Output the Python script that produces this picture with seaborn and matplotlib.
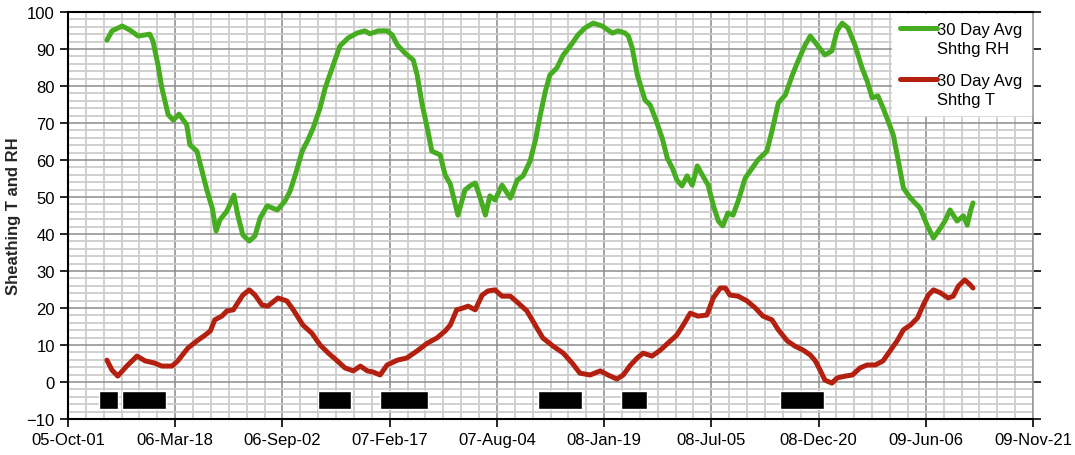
import pandas as pd
import matplotlib
matplotlib.use('Agg')
import matplotlib.pyplot as plt
import matplotlib.dates as mdates
from matplotlib.ticker import MultipleLocator, FixedLocator
from matplotlib.legend_handler import HandlerLine2D
import seaborn as sns

#%% Data (days counted from 2005-10-01)
start = pd.Timestamp('2005-10-01')

rh_days = [61, 69, 85, 97, 110, 128, 133, 141, 147, 157, 165, 174, 186, 191, 202, 210, 218, 226,
           232, 238, 249, 260, 266, 274, 284, 293, 301, 312, 328, 340, 348, 356, 367, 375, 384,
           395, 403, 414, 426, 439, 453, 465, 473, 486, 500, 508, 516, 528, 541, 547, 555, 563,
           570, 583, 591, 599, 611, 622, 630, 638, 646, 654, 661, 669, 680, 693, 704, 713, 724,
           732, 740, 748, 755, 766, 776, 787, 799, 810, 823, 837, 853, 862, 873, 878, 884, 892,
           904, 912, 920, 931, 939, 947, 954, 962, 970, 978, 986, 994, 1003, 1011, 1019, 1026,
           1034, 1042, 1050, 1061, 1072, 1081, 1095, 1103, 1113, 1124, 1135, 1144, 1155, 1163,
           1175, 1186, 1197, 1205, 1213, 1222, 1233, 1244, 1252, 1260, 1269, 1277, 1285, 1293,
           1301, 1309, 1320, 1335, 1346, 1356, 1367, 1374, 1382, 1393, 1403, 1409, 1414, 1418]
rh_vals = [92.4, 94.9, 96.2, 95.1, 93.5, 94.0, 92.2, 85.7, 79.5, 72.2, 70.8, 72.4, 69.5, 64.1,
           62.4, 57.0, 51.6, 47.0, 40.8, 43.8, 46.2, 50.5, 45.1, 39.7, 38.1, 39.5, 44.3, 47.6,
           46.5, 48.9, 51.6, 55.9, 62.4, 65.1, 68.6, 74.1, 79.5, 84.9, 90.8, 93.0, 94.3, 94.9,
           94.1, 94.9, 94.9, 93.8, 91.1, 88.9, 87.0, 83.0, 74.9, 68.6, 62.4, 61.4, 55.9, 53.5,
           45.1, 51.9, 53.0, 53.8, 49.7, 45.1, 50.3, 49.2, 53.2, 49.7, 54.6, 55.7, 59.7, 65.1,
           72.2, 78.6, 83.0, 84.9, 88.4, 90.8, 93.8, 95.7, 97.0, 96.2, 94.3, 94.9, 94.3, 93.5,
           90.3, 83.0, 76.2, 74.9, 71.4, 65.9, 60.5, 57.8, 54.6, 53.0, 55.7, 53.2, 58.4, 55.9,
           53.2, 47.8, 43.5, 42.2, 45.7, 45.1, 48.9, 55.1, 57.8, 60.0, 62.4, 67.8, 75.4, 77.6,
           83.0, 86.8, 91.1, 93.5, 90.8, 88.4, 89.5, 94.9, 97.0, 95.7, 91.1, 84.9, 81.4, 76.8,
           77.3, 74.1, 70.5, 66.8, 59.7, 52.4, 49.7, 47.0, 42.4, 38.9, 41.6, 43.5, 46.5, 43.5,
           44.9, 42.4, 46.2, 48.4]

t_days = [61, 69, 78, 92, 108, 121, 136, 147, 163, 172, 188, 202, 215, 223, 230, 241, 249, 259,
          266, 274, 284, 293, 304, 313, 329, 343, 353, 368, 382, 395, 408, 422, 434, 447, 458,
          469, 478, 489, 500, 516, 531, 547, 563, 578, 591, 599, 609, 619, 627, 638, 649, 658,
          669, 680, 693, 705, 719, 732, 744, 760, 776, 790, 802, 818, 834, 846, 860, 870, 881,
          892, 901, 915, 928, 940, 954, 964, 975, 987, 1001, 1011, 1022, 1030, 1037, 1050, 1064,
          1077, 1089, 1103, 1113, 1127, 1139, 1152, 1163, 1171, 1179, 1186, 1197, 1205, 1218,
          1229, 1241, 1252, 1265, 1277, 1288, 1299, 1309, 1320, 1331, 1340, 1348, 1356, 1367,
          1379, 1387, 1395, 1405, 1414, 1418]
t_vals = [5.9, 3.2, 1.6, 4.3, 7.0, 5.7, 5.1, 4.3, 4.3, 5.7, 9.2, 11.1, 12.7, 13.8, 16.8, 17.8,
          19.2, 19.5, 21.4, 23.5, 24.9, 23.5, 20.8, 20.5, 22.7, 21.9, 19.5, 15.4, 13.2, 10.0, 7.8,
          5.7, 3.8, 3.0, 4.3, 3.0, 2.7, 1.9, 4.6, 5.9, 6.5, 8.4, 10.5, 11.9, 13.8, 15.4, 19.5,
          20.0, 20.5, 19.5, 23.5, 24.6, 24.9, 23.2, 23.2, 21.4, 19.2, 15.4, 11.9, 9.7, 7.8, 5.1,
          2.4, 1.9, 3.0, 1.9, 0.8, 1.9, 4.5, 6.5, 7.8, 7.0, 8.6, 10.5, 12.7, 15.4, 18.6, 17.8,
          18.1, 22.7, 25.4, 25.4, 23.5, 23.2, 21.9, 20.0, 17.8, 16.8, 14.1, 11.1, 9.7, 8.6, 7.3,
          5.7, 3.0, 0.5, -0.3, 1.1, 1.6, 1.9, 3.8, 4.6, 4.6, 5.7, 8.4, 11.1, 14.1, 15.4, 17.3,
          20.8, 23.5, 24.9, 24.1, 22.7, 23.2, 25.9, 27.6, 26.2, 25.4]

# black blocks along the bottom
block_start = [49, 85, 392, 489, 737, 867, 1116]
block_end = [78, 154, 443, 564, 806, 907, 1185]
block_low, block_high = -7.3, -2.3

green = '#45ad1f'
red = '#b3200f'


# legend handle drawn level with the first line of a two-line label (Excel style)
class TopLine(HandlerLine2D):
    def create_artists(self, legend, orig_handle, xdescent, ydescent, width, height, fontsize, trans):
        artists = super().create_artists(legend, orig_handle, xdescent, ydescent,
                                         width, height, fontsize, trans)
        for a in artists:
            a.set_ydata([y + 0.66 * fontsize for y in a.get_ydata()])
        return artists


#%% Build frames
rh_df = pd.DataFrame({'date': start + pd.to_timedelta(rh_days, unit='D'), 'value': rh_vals})
t_df = pd.DataFrame({'date': start + pd.to_timedelta(t_days, unit='D'), 'value': t_vals})

sns.set_style('ticks')
plt.rcParams['font.family'] = ['Liberation Sans', 'DejaVu Sans']
plt.rcParams['text.color'] = 'black'

fig = plt.figure(figsize=(10.75, 4.56), dpi=100)
ax = fig.add_axes([68 / 1075, 1 - 420 / 456, (1033 - 68) / 1075, (420 - 13) / 456])

sns.lineplot(data=rh_df, x='date', y='value', color=green, linewidth=3.6,
             label='30 Day Avg\nShthg RH', ax=ax, zorder=3)
sns.lineplot(data=t_df, x='date', y='value', color=red, linewidth=3.6,
             label='30 Day Avg\nShthg T', ax=ax, zorder=3)

x0 = mdates.date2num(start)
for s, e in zip(block_start, block_end):
    ax.bar(x=x0 + s, height=block_high - block_low, width=e - s, bottom=block_low,
           align='edge', color='black', zorder=3)

#%% Axes formatting
ax.set_xlim(x0, x0 + 9 * 168)
ax.set_ylim(-10, 100)
ax.xaxis.set_major_locator(FixedLocator([x0 + 168 * k for k in range(10)]))
ax.xaxis.set_minor_locator(FixedLocator([x0 + 28 * k for k in range(55)]))
ax.xaxis.set_major_formatter(mdates.DateFormatter('%y-%b-%d'))
ax.yaxis.set_major_locator(MultipleLocator(10))
ax.yaxis.set_minor_locator(MultipleLocator(2))

ax.set_axisbelow(True)
ax.grid(which='minor', color='#cdcdcd', linewidth=1.3)
ax.grid(which='major', color='#8c8c8c', linewidth=1.1)

ax.tick_params(which='major', direction='out', length=6, width=1.2, labelsize=12, colors='black')
ax.tick_params(axis='y', right=True, labelright=False)
ax.tick_params(which='minor', length=0)
for side in ['left', 'bottom', 'top']:
    ax.spines[side].set_color('black')
    ax.spines[side].set_linewidth(1.5)
ax.spines['right'].set_color('#9a9a9a')
ax.spines['right'].set_linewidth(1.2)

ax.set_xlabel('')
ax.set_ylabel('Sheathing T and RH', fontsize=12, fontweight='bold', labelpad=4)

handles, labels = ax.get_legend_handles_labels()
leg = ax.legend(handles, labels, loc='upper right', bbox_to_anchor=(0.9975, 0.995),
                frameon=True, fontsize=12, handlelength=2.2, handletextpad=0.0,
                labelspacing=1.05, borderaxespad=0.0, borderpad=0.5,
                handler_map={h: TopLine() for h in handles})
leg.get_frame().set_facecolor('white')
leg.get_frame().set_edgecolor('white')
leg.get_frame().set_alpha(1)
leg.get_frame().set_boxstyle('square', pad=0)
for txt in leg.get_texts():
    txt.set_color('black')
    txt.set_linespacing(1.3)
leg.set_zorder(5)

fig.savefig('out.png', dpi=100)
